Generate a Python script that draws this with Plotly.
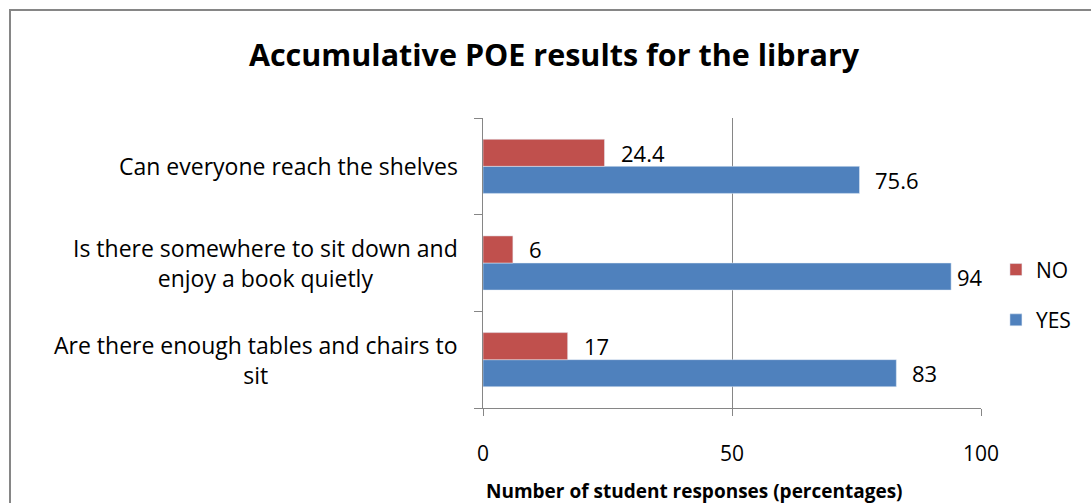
import plotly.graph_objects as go

# Survey questions (bottom to top) and response percentages
questions = [
    "Are there enough tables and chairs to<br>sit",
    "Is there somewhere to sit down and<br>enjoy a book quietly",
    "Can everyone reach the shelves",
]
yes_pct = [83, 94, 75.6]
no_pct = [17, 6, 24.4]
x_ticks = [0, 50, 100]

W, H = 1091, 503
ML, MR, MT, MB = 483, 110, 118, 95
FONT = "Open Sans"
FS = 23
GREY = "#868686"
BLUE = "#4F81BD"
RED = "#C0504D"

fig = go.Figure()
fig.add_trace(go.Bar(y=questions, x=yes_pct, name="YES", orientation="h",
                     marker=dict(color=BLUE), legendgroup="yes", legendrank=2))
fig.add_trace(go.Bar(y=questions, x=no_pct, name="NO", orientation="h",
                     marker=dict(color=RED), legendgroup="no", legendrank=1))

plot_w = W - ML - MR
plot_h = H - MT - MB
band_px = plot_h / len(questions)
bargap = 0.44
bar_px = band_px * (1 - bargap) / 2

annotations = []
# value labels just past the end of each bar
for series, sign in ((yes_pct, -1), (no_pct, 1)):
    for q, v in zip(questions, series):
        annotations.append(dict(
            x=v, y=q, xref="x", yref="y", text=str(v), showarrow=False,
            xanchor="left", yanchor="middle",
            xshift=4 if v > 90 else 14, yshift=sign * bar_px / 2,
            font=dict(family=FONT, size=FS - 1, color="black")))
# category labels, centred line by line
for q in questions:
    annotations.append(dict(
        x=0, y=q, xref="paper", yref="y", text=q, showarrow=False,
        xanchor="right", yanchor="middle", align="center", xshift=-23,
        font=dict(family=FONT, size=FS, color="black")))
# x axis title
annotations.append(dict(
    x=(694 - ML) / plot_w, y=0, xref="paper", yref="paper",
    text="<b>Number of student responses (percentages)</b>", showarrow=False,
    xanchor="center", yanchor="middle", yshift=-83,
    font=dict(family=FONT, size=19, color="black")))

# outer chart frame (open on the right and bottom edges)
bx0 = (10 - ML) / plot_w
by1 = (H - MB - 10) / plot_h
fig.add_shape(type="rect", xref="paper", yref="paper",
              x0=bx0, x1=(W + 20 - ML) / plot_w, y0=-(MB + 20) / plot_h, y1=by1,
              line=dict(color=GREY, width=2), fillcolor="rgba(0,0,0,0)", layer="below")

fig.update_layout(
    width=W, height=H,
    margin=dict(l=ML, r=MR, t=MT, b=MB),
    paper_bgcolor="white", plot_bgcolor="white",
    barmode="group", bargap=bargap, bargroupgap=0,
    title=dict(text="<b>Accumulative POE results for the library</b>",
               x=554 / W, xref="container", xanchor="center",
               y=1 - 55 / H, yref="container", yanchor="middle",
               font=dict(family=FONT, size=30.5, color="black")),
    font=dict(family=FONT, size=FS, color="black"),
    annotations=annotations,
    legend=dict(x=1.03, y=0.39, xanchor="left", yanchor="middle",
                traceorder="grouped", tracegroupgap=20,
                font=dict(family=FONT, size=21, color="black"),
                bgcolor="rgba(0,0,0,0)"),
    xaxis=dict(range=[0, 100], tickvals=x_ticks, showgrid=True, gridcolor=GREY,
               gridwidth=1, zeroline=False, showline=True, linecolor=GREY,
               ticks="outside", ticklen=7, tickcolor=GREY,
               ticklabelstandoff=20, tickfont=dict(family=FONT, size=21)),
    yaxis=dict(type="category", showticklabels=False, showline=True,
               linecolor=GREY, ticks="outside", ticklen=8, tickcolor=GREY,
               tickson="boundaries", showgrid=False),
)

fig.write_html("out.html")
